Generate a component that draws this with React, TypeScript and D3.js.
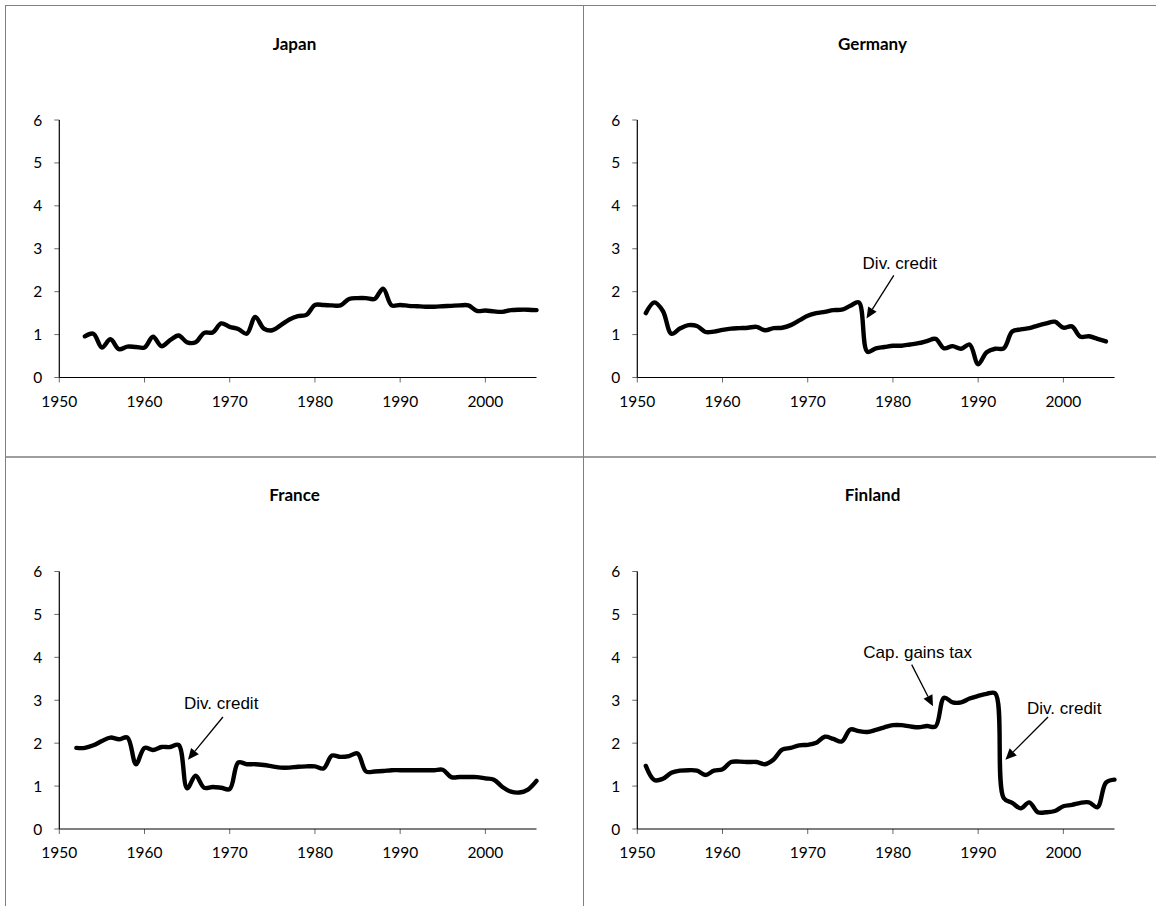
import React from "react";
import * as d3 from "d3";

const YEARS = [
  1951, 1952, 1953, 1954, 1955, 1956, 1957, 1958, 1959, 1960,
  1961, 1962, 1963, 1964, 1965, 1966, 1967, 1968, 1969, 1970,
  1971, 1972, 1973, 1974, 1975, 1976, 1977, 1978, 1979, 1980,
  1981, 1982, 1983, 1984, 1985, 1986, 1987, 1988, 1989, 1990,
  1991, 1992, 1993, 1994, 1995, 1996, 1997, 1998, 1999, 2000,
  2001, 2002, 2003, 2004, 2005, 2006,
];

// Japan 1953-2006
const JAPAN = [
  0.96, 1.02, 0.7, 0.89, 0.66, 0.72, 0.71, 0.7, 0.95, 0.73,
  0.87, 0.98, 0.82, 0.82, 1.04, 1.05, 1.26, 1.18, 1.13, 1.02,
  1.41, 1.14, 1.1, 1.22, 1.35, 1.43, 1.46, 1.69, 1.69, 1.68,
  1.68, 1.83, 1.85, 1.85, 1.83, 2.07, 1.68, 1.69, 1.67, 1.66,
  1.65, 1.65, 1.66, 1.67, 1.68, 1.68, 1.55, 1.56, 1.54, 1.53,
  1.57, 1.58, 1.58, 1.57,
];
// Germany 1951-2005
const GERMANY = [
  1.5, 1.75, 1.55, 1.02, 1.14, 1.22, 1.2, 1.06, 1.07, 1.11,
  1.14, 1.15, 1.16, 1.18, 1.1, 1.15, 1.16, 1.22, 1.33, 1.44,
  1.5, 1.53, 1.57, 1.58, 1.67, 1.75, 0.6, 0.68, 0.71, 0.74,
  0.74, 0.77, 0.8, 0.85, 0.9, 0.68, 0.73, 0.67, 0.77, 0.31,
  0.59, 0.67, 0.68, 1.07, 1.12, 1.15, 1.21, 1.26, 1.3, 1.16,
  1.19, 0.95, 0.96, 0.9, 0.84,
];
// France 1952-2006
const FRANCE = [
  1.89, 1.89, 1.95, 2.05, 2.13, 2.09, 2.13, 1.51, 1.89, 1.84,
  1.91, 1.91, 1.96, 0.95, 1.24, 0.96, 0.98, 0.96, 0.93, 1.55,
  1.51, 1.51, 1.49, 1.46, 1.43, 1.43, 1.45, 1.46, 1.46, 1.41,
  1.71, 1.68, 1.7, 1.76, 1.34, 1.34, 1.35, 1.37, 1.37, 1.37,
  1.37, 1.37, 1.37, 1.38, 1.21, 1.21, 1.21, 1.21, 1.18, 1.15,
  0.98, 0.87, 0.85, 0.92, 1.12,
];
// Finland 1951-2006
const FINLAND = [
  1.47, 1.14, 1.17, 1.31, 1.36, 1.37, 1.36, 1.26, 1.36, 1.39,
  1.56, 1.57, 1.56, 1.56, 1.51, 1.62, 1.85, 1.89, 1.95, 1.96,
  2.01, 2.15, 2.1, 2.04, 2.32, 2.28, 2.26, 2.31, 2.37, 2.42,
  2.42, 2.39, 2.37, 2.4, 2.39, 3.06, 2.95, 2.95, 3.04, 3.1,
  3.15, 3.16, 0.72, 0.61, 0.48, 0.62, 0.39, 0.39, 0.42, 0.53,
  0.56, 0.61, 0.62, 0.51, 1.08, 1.15,
];

const X_TICKS = [1950, 1960, 1970, 1980, 1990, 2000];
const Y_TICKS = [0, 1, 2, 3, 4, 5, 6];
const X_DOMAIN = [1950, 2006];
const Y_DOMAIN = [0, 6];

type Ann = { text: string; tx: number; ty: number; x1: number; y1: number; x2: number; y2: number };

const GERMANY_ANN: Ann[] = [
  { text: "Div. credit", tx: 1980.8, ty: 2.66, x1: 1980.1, y1: 2.38, x2: 1976.9, y2: 1.375 },
];
const FRANCE_ANN: Ann[] = [
  { text: "Div. credit", tx: 1969.0, ty: 2.94, x1: 1969.2, y1: 2.61, x2: 1965.1, y2: 1.615 },
];
const FINLAND_ANN: Ann[] = [
  { text: "Cap. gains tax", tx: 1982.9, ty: 4.13, x1: 1982.2, y1: 3.83, x2: 1984.7, y2: 2.86 },
  { text: "Div. credit", tx: 2000.1, ty: 2.83, x1: 1998.2, y1: 2.61, x2: 1993.2, y2: 1.615 },
];

const PANELS = [
  { title: "Japan", start: 1953, values: JAPAN, ann: [] as Ann[], col: 0, row: 0 },
  { title: "Germany", start: 1951, values: GERMANY, ann: GERMANY_ANN, col: 1, row: 0 },
  { title: "France", start: 1952, values: FRANCE, ann: FRANCE_ANN, col: 0, row: 1 },
  { title: "Finland", start: 1951, values: FINLAND, ann: FINLAND_ANN, col: 1, row: 1 },
];

const PANEL_W = 578;
const PANEL_H = 451.5;
const ORIGIN_X = 5.5;
const ORIGIN_Y = 5.5;
const PLOT_L = 53.8;
const PLOT_R = 531;
const PLOT_T = 114.5;
const PLOT_B = 372;

const TICK_FONT = "Lato, 'Open Sans', sans-serif";
const ANN_FONT = "'Liberation Sans', Arial, sans-serif";

function Panel({ p }: { p: (typeof PANELS)[number] }) {
  const px = ORIGIN_X + p.col * PANEL_W;
  const py = ORIGIN_Y + p.row * PANEL_H;
  const x = d3.scaleLinear().domain(X_DOMAIN).range([px + PLOT_L, px + PLOT_R]);
  const y = d3.scaleLinear().domain(Y_DOMAIN).range([py + PLOT_B, py + PLOT_T]);
  const si = YEARS.indexOf(p.start);
  const pts: [number, number][] = p.values.map((v, i) => [YEARS[si + i], v]);
  const line = d3
    .line<[number, number]>()
    .x((d) => x(d[0]))
    .y((d) => y(d[1]))
    .curve(d3.curveCatmullRom.alpha(0.5));
  const x0 = x(X_DOMAIN[0]);
  const x1 = x(X_DOMAIN[1]);
  const y0 = y(0);
  return (
    <g>
      <rect x={px} y={py} width={PANEL_W} height={PANEL_H} fill="none" stroke="#7f7f7f" strokeWidth={1} />
      <text
        x={px + PANEL_W / 2}
        y={py + 44}
        textAnchor="middle"
        fontFamily={TICK_FONT}
        fontWeight="bold"
        fontSize={17}
        fill="#000"
      >
        {p.title}
      </text>
      {Y_TICKS.map((t) => (
        <g key={"y" + t}>
          <line x1={x0 - 5} x2={x0} y1={y(t)} y2={y(t)} stroke="#6b6b6b" strokeWidth={1} />
          <text
            x={x0 - 17}
            y={y(t)}
            dy="0.36em"
            textAnchor="end"
            fontFamily={TICK_FONT}
            fontSize={15.5}
            fill="#000"
          >
            {t}
          </text>
        </g>
      ))}
      {X_TICKS.map((t) => (
        <g key={"x" + t}>
          <line x1={x(t)} x2={x(t)} y1={y0} y2={y0 + 5} stroke="#6b6b6b" strokeWidth={1} />
          <text
            x={x(t)}
            y={y0 + 29}
            textAnchor="middle"
            fontFamily={TICK_FONT}
            fontSize={15.5}
            fill="#000"
          >
            {t}
          </text>
        </g>
      ))}
      <line x1={x0} x2={x0} y1={y(6)} y2={y0} stroke="#000" strokeWidth={1.2} />
      <line x1={x0} x2={x1} y1={y0} y2={y0} stroke="#000" strokeWidth={1.2} />
      <path d={line(pts) || ""} fill="none" stroke="#000" strokeWidth={4.4} strokeLinejoin="round" strokeLinecap="round" />
      {p.ann.map((a, i) => {
        const ax1 = x(a.x1);
        const ay1 = y(a.y1);
        const ax2 = x(a.x2);
        const ay2 = y(a.y2);
        const ang = Math.atan2(ay2 - ay1, ax2 - ax1);
        const hl = 11;
        const hw = 5;
        const bx = ax2 - hl * Math.cos(ang);
        const by = ay2 - hl * Math.sin(ang);
        const nx = -Math.sin(ang) * hw;
        const ny = Math.cos(ang) * hw;
        return (
          <g key={i}>
            <text
              x={x(a.tx)}
              y={y(a.ty)}
              dy="0.36em"
              textAnchor="middle"
              fontFamily={ANN_FONT}
              fontSize={17}
              fill="#000"
            >
              {a.text}
            </text>
            <line x1={ax1} y1={ay1} x2={bx} y2={by} stroke="#000" strokeWidth={1.3} />
            <polygon
              points={`${ax2},${ay2} ${bx + nx},${by + ny} ${bx - nx},${by - ny}`}
              fill="#000"
            />
          </g>
        );
      })}
    </g>
  );
}

export default function App() {
  return (
    <svg
      width={1156}
      height={906}
      style={{ position: "fixed", left: 0, top: 0, background: "#fff" }}
    >
      <rect x={0} y={0} width={1156} height={906} fill="#fff" />
      {PANELS.map((p) => (
        <Panel key={p.title} p={p} />
      ))}
    </svg>
  );
}
